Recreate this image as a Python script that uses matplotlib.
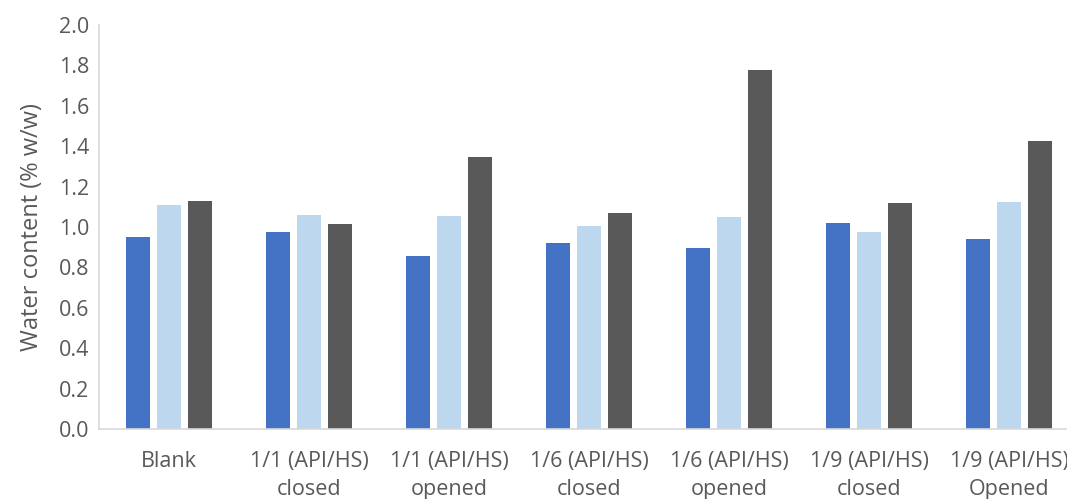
import numpy as np
import matplotlib
matplotlib.use("Agg")
import matplotlib.pyplot as plt

# water content per sample, three measurements each
samples = ["Blank", "1/1 (API/HS)\nclosed", "1/1 (API/HS)\nopened",
           "1/6 (API/HS)\nclosed", "1/6 (API/HS)\nopened",
           "1/9 (API/HS)\nclosed", "1/9 (API/HS)\nOpened"]
serie1 = [0.95, 0.973, 0.854, 0.922, 0.897, 1.021, 0.942]
serie2 = [1.107, 1.057, 1.052, 1.007, 1.050, 0.973, 1.124]
serie3 = [1.131, 1.015, 1.348, 1.070, 1.776, 1.119, 1.427]
yticks = np.arange(0, 2.01, 0.2)

cores = ["#4472C4", "#BDD7EE", "#595959"]
cinza = "#595959"

plt.rcParams['font.family'] = ['Open Sans', 'DejaVu Sans']

fig = plt.figure(figsize=(10.67, 4.99), dpi=100)
ax = fig.add_axes([0.0928, 0.1403, 0.9185, 0.8096])

x = np.arange(len(samples))
passo = 0.22   # distância entre barras do mesmo grupo
larg = 0.174   # largura das barras
for i, (serie, cor) in enumerate(zip([serie1, serie2, serie3], cores)):
    ax.bar(x + (i - 1) * passo, serie, width=larg, color=cor, edgecolor="none")

ax.set_xlim(-0.5, len(samples) - 0.5)
ax.set_ylim(0, 2.0)
ax.set_yticks(yticks)
ax.set_yticklabels([f"{v:.1f}" for v in yticks])
ax.set_xticks(x)
ax.set_xticklabels(samples, linespacing=1.4)
ax.tick_params(axis="both", length=0, labelsize=15.5, colors=cinza)
ax.tick_params(axis="x", pad=16)
ax.tick_params(axis="y", pad=7)
ax.set_ylabel("Water content (% w/w)", fontsize=17, color=cinza, labelpad=11)

for lado in ["top", "right"]:
    ax.spines[lado].set_visible(False)
for lado in ["left", "bottom"]:
    ax.spines[lado].set_color("#D9D9D9")
    ax.spines[lado].set_linewidth(1.2)

fig.savefig("out.png", dpi=100)
